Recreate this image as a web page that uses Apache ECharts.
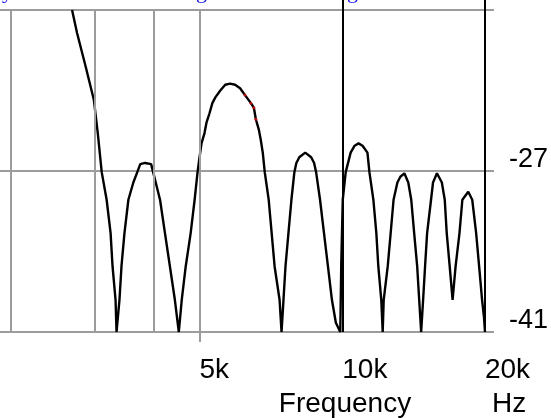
<!DOCTYPE html>
<html>
<head>
<meta charset="utf-8">
<script src="https://cdn.jsdelivr.net/npm/echarts@6/dist/echarts.min.js"></script>
<style>
html,body{margin:0;padding:0;background:#fff;}
#c{width:551px;height:418px;}
</style>
</head>
<body>
<div id="c"></div>
<script>
// ---- data ----
const freqHz = [2692,2758,2879,2992,3050,3109,3184,3246,3277,3325,3341,
  3389,3422,3472,3539,3625,3695,3749,3840,3952,3991,4127,4227,4330,4435,4521,
  4586,4675,4789,4882,4952,5000,5048,5122,5171,5246,5321,5399,5530,5665,5801,5943,6088,6235,6417,6510,6572,6668,6732,6797,6863,6996,7097,7200,7375,7446,
  7517,7590,7700,7812,7925,8001,8117,8354,8598,8723,8807,8977,9151,9329,9510,9694,9904,
  9952,10024,10169,10416,10619,10824,11034,11301,11410,11631,11800,11914,12086,12170,
  12230,12470,12650,12830,13070,13260,13520,13780,13980,14180,14390,14530,14670,
  14810,14950,15100,15390,15540,15840,16220,16450,16610,16850,17090,
  17340,17670,17920,18440,18800,19160,19440,19720,19904,20000];
const levelDb = [-13.0,-15.0,-18.0,-20.8,-23.7,-27.1,-29.5,-32.4,-35.3,-38.2,-41.0,
  -38.2,-35.3,-32.4,-29.5,-28.0,-27.1,-26.4,-26.3,-26.4,-27.1,-29.5,-32.4,-35.3,-38.2,-41.0,
  -38.2,-35.3,-32.4,-29.5,-27.1,-25.8,-24.6,-23.7,-22.8,-22.0,-21.1,-20.6,-20.0,-19.5,-19.4,-19.5,-19.8,-20.4,-21.1,-21.5,-22.5,-23.4,-24.3,-25.4,-27.1,-29.5,-32.4,-35.3,-38.2,-41.0,
  -38.2,-35.3,-32.4,-29.5,-27.1,-26.3,-25.8,-25.4,-25.8,-26.3,-27.1,-29.5,-32.4,-35.3,-38.2,-40.2,-41.0,
  -35.0,-29.5,-27.1,-25.4,-24.8,-24.6,-24.8,-25.4,-27.1,-29.5,-32.4,-35.3,-38.2,-41.0,
  -38.2,-35.3,-32.4,-29.5,-28.0,-27.5,-27.2,-28.0,-29.5,-32.4,-35.3,-38.2,-41.0,
  -38.2,-35.3,-32.4,-29.5,-28.0,-27.2,-28.0,-29.5,-32.4,-35.3,-38.2,
  -35.3,-32.4,-29.5,-28.8,-29.5,-32.4,-35.3,-38.2,-39.7,-41.0];
const redFreq = [6235,6417,6510,6572];
const redDb = [-20.4,-21.1,-21.5,-22.5];
const grayGridFreq = [2000,3000,4000,5000];
const blackGridFreq = [10000,20000];
const labelFreq = [5000,10000,20000];
const labelText = ['5k','10k','20k'];
const yMin = -41, yMax = -13, yStep = 14;
const yLabelText = ['-41','-27'];
const xName = 'Frequency';
const xUnit = 'Hz';

const GRAY = '#9c9c9c';
const FONT = 'Liberation Sans';

const chart = echarts.init(document.getElementById('c'), null, {renderer:'canvas'});
const lineData = freqHz.map((f,i)=>[f, levelDb[i]]);
const redData = redFreq.map((f,i)=>[f, redDb[i]]);

const xBase = {
  type:'log', logBase:10, min:1897, max:20000,
  axisLine:{show:false}, splitLine:{show:false}
};

const option = {
  animation:false,
  backgroundColor:'#ffffff',
  grid:{left:0, right:60, top:10, bottom:86, containLabel:false},
  xAxis:[
    Object.assign({}, xBase, {
      axisTick:{show:true, customValues:[labelFreq[0]], length:10, lineStyle:{color:GRAY, width:2}},
      axisLabel:{show:true, customValues:labelFreq, align:'left', margin:24,
        fontSize:28, lineHeight:28, fontFamily:FONT, color:'#000',
        formatter:(v)=>{const i=labelFreq.indexOf(Math.round(v)); return i>=0?labelText[i]:'';}}
    }),
    Object.assign({}, xBase, {
      axisTick:{show:true, customValues:blackGridFreq, length:10, lineStyle:{color:'#000', width:2}},
      axisLabel:{show:false}
    })
  ],
  yAxis:{
    type:'value', min:yMin, max:yMax, interval:yStep, position:'right',
    axisLine:{show:false},
    axisTick:{show:true, length:9, lineStyle:{color:GRAY, width:2}},
    splitLine:{show:true, lineStyle:{color:GRAY, width:2}},
    axisLabel:{show:true, margin:24, fontSize:27, lineHeight:22, fontFamily:FONT, color:'#000',
      verticalAlign:'bottom',
      formatter:(v)=>{const s=String(Math.round(v)); return yLabelText.indexOf(s)>=0?s:'';}}
  },
  series:[
    {
      type:'line', data:[], z:1, silent:true,
      markLine:{
        symbol:'none', silent:true, animation:false, label:{show:false},
        data: grayGridFreq.map(f=>({xAxis:f, lineStyle:{color:GRAY, width:2, type:'solid'}}))
          .concat(blackGridFreq.map(f=>({xAxis:f, lineStyle:{color:'#000', width:2, type:'solid'}})))
      }
    },
    {
      type:'line', data:lineData, showSymbol:false, z:3, clip:true,
      lineStyle:{color:'#000', width:2.4}, silent:true
    },
    {
      type:'scatter', data:redData, symbolSize:3, z:4, silent:true,
      itemStyle:{color:'#e01010'}
    }
  ],
  graphic:[
    {type:'text', x:345, y:404, silent:true,
      style:{text:xName, textAlign:'center', textVerticalAlign:'middle', fontSize:28, fontFamily:FONT, fill:'#000'}},
    {type:'text', x:492, y:404, silent:true,
      style:{text:xUnit, textAlign:'left', textVerticalAlign:'middle', fontSize:28, fontFamily:FONT, fill:'#000'}},
    {type:'text', x:2, y:3, silent:true,
      style:{text:'y', textAlign:'left', textVerticalAlign:'bottom', fontSize:22, fontFamily:'Liberation Serif', fill:'#1515e8'}},
    {type:'text', x:196, y:3, silent:true,
      style:{text:'g', textAlign:'left', textVerticalAlign:'bottom', fontSize:22, fontFamily:'Liberation Serif', fill:'#1515e8'}},
    {type:'text', x:347, y:3, silent:true,
      style:{text:'g', textAlign:'left', textVerticalAlign:'bottom', fontSize:22, fontFamily:'Liberation Serif', fill:'#1515e8'}}
  ]
};
chart.setOption(option);
</script>
</body>
</html>
